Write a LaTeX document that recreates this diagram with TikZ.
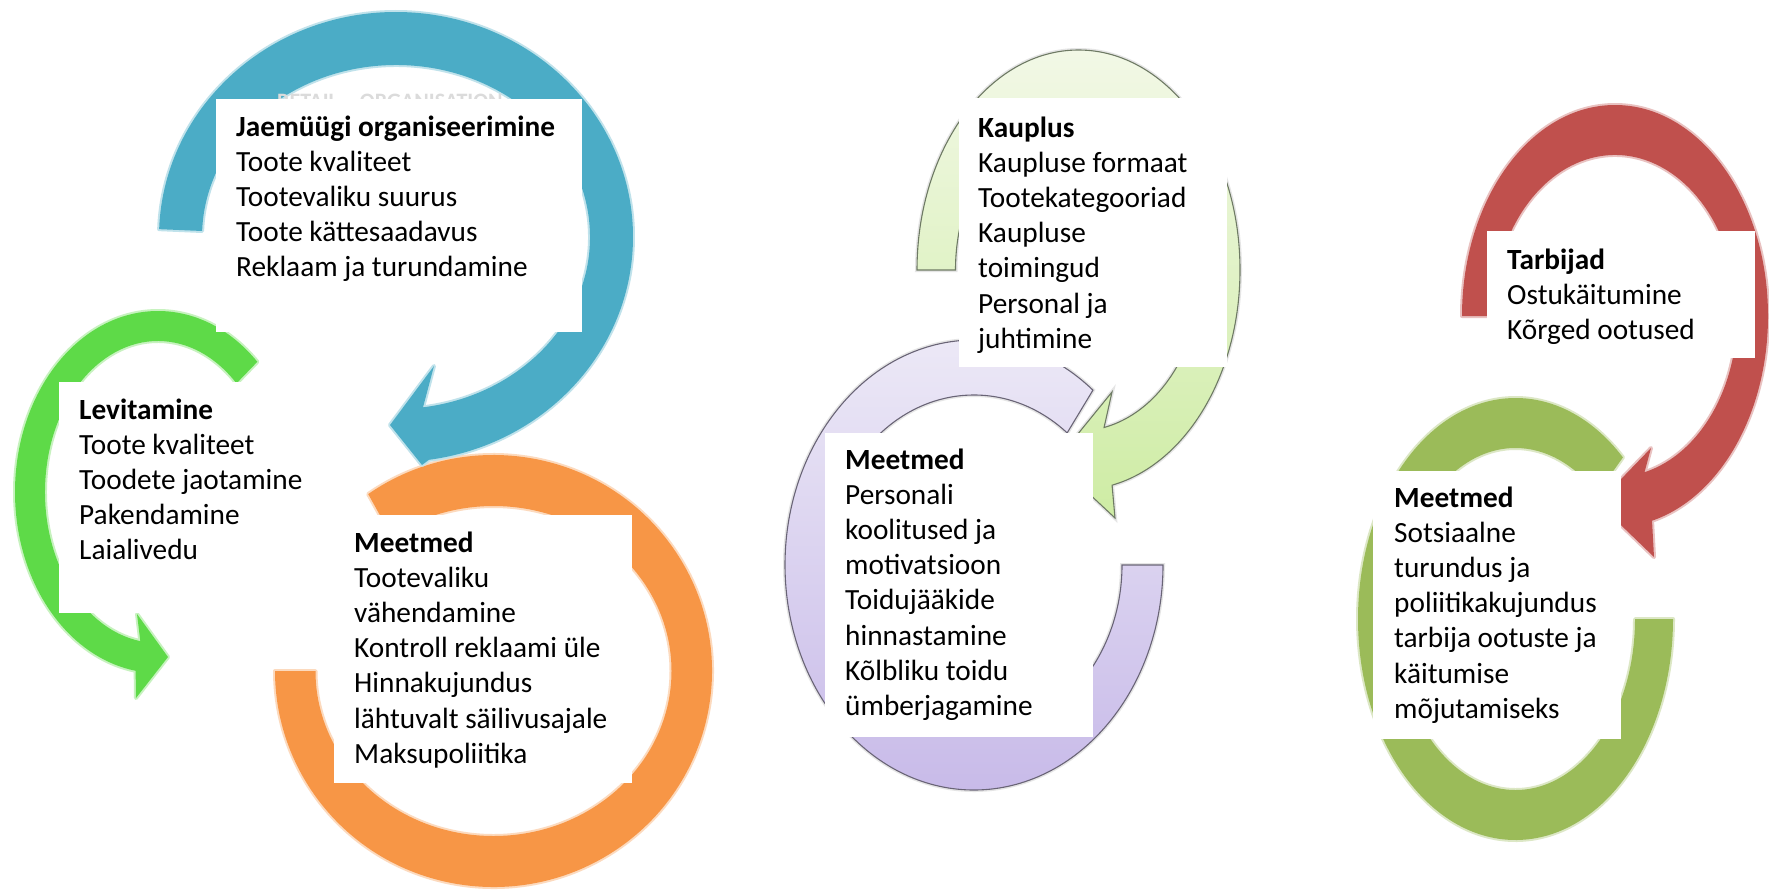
\documentclass[tikz,border=0pt]{standalone}
\usepackage{fontspec}
\setmainfont{Carlito}
\usetikzlibrary{calc}

\definecolor{ringblue}{HTML}{4BACC6}
\definecolor{ringorange}{HTML}{F79646}
\definecolor{ringred}{HTML}{C0504D}
\definecolor{ringolive}{HTML}{9BBB59}
\definecolor{ringlime}{RGB}{94,218,72}
\definecolor{paleTop}{RGB}{242,248,230}
\definecolor{paleBot}{RGB}{206,236,164}
\definecolor{paleLine}{RGB}{110,122,100}
\definecolor{lilacTop}{RGB}{238,235,247}
\definecolor{lilacBot}{RGB}{198,184,232}
\definecolor{lilacLine}{RGB}{105,100,118}

\tikzset{
  soft/.style={fill=#1, preaction={draw=#1!35, line width=4pt, line join=round}},
  pale/.style={top color=paleTop, bottom color=paleBot, draw=paleLine, line width=1.1pt,
    preaction={draw=black!10, line width=4pt}},
  lilac/.style={top color=lilacTop, bottom color=lilacBot, draw=lilacLine, line width=1.1pt,
    preaction={draw=black!10, line width=4pt}},
  whitebox/.style={fill=white, draw=none, inner sep=0pt, outer sep=0pt, anchor=north west},
  % anchored at the baseline of the last line
  txt/.style={anchor=base west, align=left, inner sep=0pt, font=\fontsize{29.3}{35.2}\selectfont},
  ghost/.style={anchor=base west, inner sep=0pt, text=black!14, font=\fontsize{22}{24}\selectfont\bfseries},
}

\begin{document}
\begin{tikzpicture}[x=1pt,y=1pt]
\fill[white] (0,0) rectangle (1769,-889);
\useasboundingbox (0,0) rectangle (1769,-889);

% ---------- left group ----------
\coordinate (cB) at (396,-237);
\coordinate (cL) at (158,-492);
\coordinate (cO) at (493.5,-671);

% orange ring
\fill[soft=ringorange]
  ($(cO)+(125:218.5pt and 216pt)$) arc[start angle=125, end angle=-180, x radius=218.5pt, y radius=216pt]
  -- ($(cO)+(180:178pt and 165pt)$) arc[start angle=-180, end angle=125, x radius=178pt, y radius=165pt] -- cycle;

% green arrow
\fill[soft=ringlime]
  ($(cL)+(46:143pt and 181pt)$) arc[start angle=46, end angle=261, x radius=143pt, y radius=181pt]
  -- (136,-698) -- (168,-657) -- (137,-614)
  -- ($(cL)+(261:113pt and 151pt)$) arc[start angle=261, end angle=46, x radius=113pt, y radius=151pt] -- cycle;

% blue arrow
\fill[soft=ringblue]
  ($(cB)+(178:237pt and 225pt)$) arc[start angle=178, end angle=-82, x radius=237pt, y radius=225pt]
  -- (422,-465) -- (390,-425) -- (434,-366)
  -- ($(cB)+(-82:194pt and 172pt)$) arc[start angle=-82, end angle=178, x radius=194pt, y radius=172pt] -- cycle;

% ---------- middle group ----------
\coordinate (cP) at (974,-565);
\coordinate (cK) at (1078.5,-270);

% lilac ring
\path[lilac]
  ($(cP)+(51:189pt and 225pt)$) arc[start angle=51, end angle=360, x radius=189pt, y radius=225pt]
  -- ($(cP)+(0:148pt and 170pt)$) arc[start angle=360, end angle=51, x radius=148pt, y radius=170pt] -- cycle;

% pale green arrow
\path[pale]
  ($(cK)+(180:161.5pt and 220pt)$) arc[start angle=180, end angle=-78, x radius=161.5pt, y radius=220pt]
  -- (1115,-518) -- (1055,-462) -- (1112,-392)
  -- ($(cK)+(-78:123pt and 161pt)$) arc[start angle=-78, end angle=180, x radius=123pt, y radius=161pt] -- cycle;

% ---------- right group ----------
\coordinate (cR) at (1615,-316);
\coordinate (cG) at (1515.5,-619);

% olive ring
\fill[soft=ringolive]
  ($(cG)+(47:157.5pt and 221pt)$) arc[start angle=47, end angle=360, x radius=157.5pt, y radius=221pt]
  -- ($(cG)+(0:119.5pt and 171pt)$) arc[start angle=360, end angle=47, x radius=119.5pt, y radius=171pt] -- cycle;

% red arrow
\fill[soft=ringred]
  ($(cR)+(180:153pt and 211pt)$) arc[start angle=180, end angle=-76, x radius=153pt, y radius=211pt]
  -- (1654,-557) -- (1598,-503) -- (1651,-448)
  -- ($(cR)+(-76:122pt and 161pt)$) arc[start angle=-76, end angle=180, x radius=122pt, y radius=161pt] -- cycle;

% heading text partly hidden behind the top box
\node[ghost] (ghost) at (277,-108) {RETAIL\quad ORGANISATION};

% ---------- white panels ----------
\node[whitebox, minimum width=366pt, minimum height=233pt] (jbox) at (216,-99) {};
\node[whitebox, minimum width=266pt, minimum height=231pt] (lbox) at (59,-382) {};
\node[whitebox, minimum width=298pt, minimum height=268pt] (obox) at (334,-515) {};
\node[whitebox, minimum width=268pt, minimum height=269pt] (kbox) at (959,-98) {};
\node[whitebox, minimum width=268pt, minimum height=304pt] (pbox) at (825,-433) {};
\node[whitebox, minimum width=268pt, minimum height=127pt] (tbox) at (1487,-231) {};
\node[whitebox, minimum width=248pt, minimum height=268pt] (gbox) at (1373,-471) {};

% ---------- texts ----------
\node[txt] (jtxt) at (236,-276.8) {\textbf{Jaemüügi organiseerimine}\\Toote kvaliteet\\Tootevaliku suurus\\Toote kättesaadavus\\Reklaam ja turundamine};
\node[txt] (ltxt) at (79,-559.8) {\textbf{Levitamine}\\Toote kvaliteet\\Toodete jaotamine\\Pakendamine\\Laialivedu};
\node[txt] (otxt) at (354,-763.2) {\textbf{Meetmed}\\Tootevaliku\\vähendamine\\Kontroll reklaami üle\\Hinnakujundus\\lähtuvalt säilivusajale\\Maksupoliitika};
\node[txt] (ktxt) at (978,-348.2) {\textbf{Kauplus}\\Kaupluse formaat\\Tootekategooriad\\Kaupluse\\toimingud\\Personal ja\\juhtimine};
\node[txt] (ptxt) at (845,-715.4) {\textbf{Meetmed}\\Personali\\koolitused ja\\motivatsioon\\Toidujääkide\\hinnastamine\\Kõlbliku toidu\\ümberjagamine};
\node[txt] (ttxt) at (1507,-339.4) {\textbf{Tarbijad}\\Ostukäitumine\\Kõrged ootused};
\node[txt] (gtxt) at (1394,-718.2) {\textbf{Meetmed}\\Sotsiaalne\\turundus ja\\poliitikakujundus\\tarbija ootuste ja\\käitumise\\mõjutamiseks};
\end{tikzpicture}
\end{document}
